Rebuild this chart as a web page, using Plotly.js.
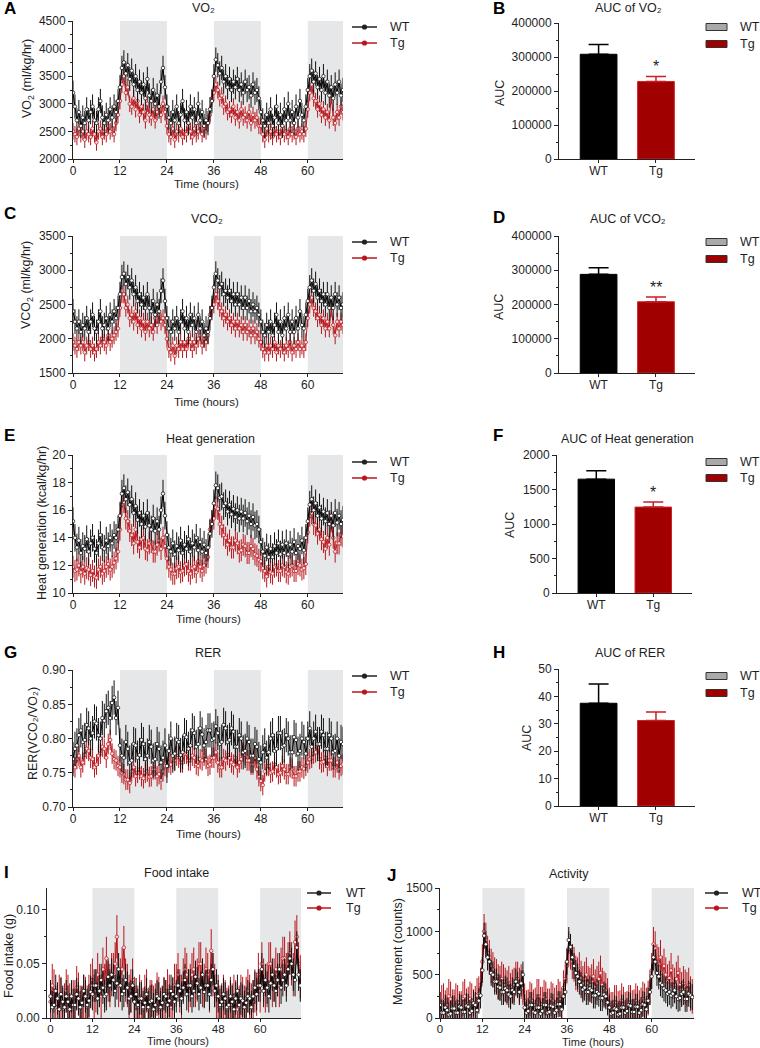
<!DOCTYPE html>
<html>
<head>
<meta charset="utf-8">
<script src="https://cdn.plot.ly/plotly-3.0.1.min.js"></script>
<style>html,body{margin:0;padding:0;background:#fff;}#chart{width:760px;height:1048px;}</style>
</head>
<body>
<div id="chart"></div>
<script>
// ---------------- DATA ----------------
const groups = ['WT', 'Tg'];
const timeTicks = [0, 12, 24, 36, 48, 60];
const hoursAG = [0,0.5,1,1.5,2,2.5,3,3.5,4,4.5,5,5.5,6,6.5,7,7.5,8,8.5,9,9.5,10,10.5,11,11.5,
 12,12.5,13,13.5,14,14.5,15,15.5,16,16.5,17,17.5,18,18.5,19,19.5,20,20.5,21,21.5,22,22.5,23,23.5,
 24,24.5,25,25.5,26,26.5,27,27.5,28,28.5,29,29.5,30,30.5,31,31.5,32,32.5,33,33.5,34,34.5,35,35.5,
 36,36.5,37,37.5,38,38.5,39,39.5,40,40.5,41,41.5,42,42.5,43,43.5,44,44.5,45,45.5,46,46.5,47,47.5,
 48,48.5,49,49.5,50,50.5,51,51.5,52,52.5,53,53.5,54,54.5,55,55.5,56,56.5,57,57.5,58,58.5,59,59.5,
 60,60.5,61,61.5,62,62.5,63,63.5,64,64.5,65,65.5,66,66.5,67,67.5,68,68.5,69];
const hoursIJ = [0,0.5,1,1.5,2,2.5,3,3.5,4,4.5,5,5.5,6,6.5,7,7.5,8,8.5,9,9.5,10,10.5,11,11.5,
 12,12.5,13,13.5,14,14.5,15,15.5,16,16.5,17,17.5,18,18.5,19,19.5,20,20.5,21,21.5,22,22.5,23,23.5,
 24,24.5,25,25.5,26,26.5,27,27.5,28,28.5,29,29.5,30,30.5,31,31.5,32,32.5,33,33.5,34,34.5,35,35.5,
 36,36.5,37,37.5,38,38.5,39,39.5,40,40.5,41,41.5,42,42.5,43,43.5,44,44.5,45,45.5,46,46.5,47,47.5,
 48,48.5,49,49.5,50,50.5,51,51.5,52,52.5,53,53.5,54,54.5,55,55.5,56,56.5,57,57.5,58,58.5,59,59.5,
 60,60.5,61,61.5,62,62.5,63,63.5,64,64.5,65,65.5,66,66.5,67,67.5,68,68.5,69,69.5,70,70.5,71,71.5];

const vo2WT = [3200,2950,2700,2850,2600,2750,2650,2900,2700,2850,2950,2700,2650,2900,3050,2750,2650,2800,2700,2900,2750,2950,2850,3050,
 3300,3650,3750,3550,3700,3450,3600,3350,3500,3250,3400,3200,3350,3100,3450,3150,3050,3250,3000,3150,2950,3400,3650,3300,
 2950,2750,2650,2850,2700,2950,2650,2800,3050,2700,2850,2650,2950,2750,2900,2650,3000,2700,2850,2600,2700,2650,2900,3050,
 3500,3800,3700,3550,3650,3400,3500,3300,3450,3250,3400,3300,3450,3250,3350,3200,3400,3250,3300,3150,3350,3200,3250,3100,
 2850,2700,2600,2800,2650,2900,2600,2750,2950,2650,2800,2600,2900,2700,3000,2700,2850,2650,2950,2750,3050,2800,2700,2950,
 3250,3500,3600,3400,3550,3300,3450,3250,3500,3200,3400,3150,3300,3100,3350,3200,3400,3150,3250];
const vo2Tg = [2500,2450,2400,2550,2450,2500,2350,2500,2450,2400,2550,2450,2300,2500,2550,2400,2500,2450,2600,2500,2550,2450,2650,2800,
 3050,3350,3500,3200,3300,3000,2950,3100,2900,3050,2800,2950,2850,2700,3000,2800,2750,2900,2700,2850,2950,2800,3000,2850,
 2600,2450,2400,2550,2350,2500,2450,2550,2400,2500,2450,2600,2500,2400,2550,2450,2500,2600,2450,2550,2500,2650,2800,3100,
 3200,3350,3250,3100,3150,2950,3000,2850,2900,2800,2950,2750,2850,2700,2900,2750,2800,2700,2850,2650,2800,2700,2750,2600,
 2600,2450,2350,2550,2450,2500,2400,2550,2450,2500,2400,2550,2450,2500,2400,2550,2450,2500,2400,2550,2450,2500,2450,2550,
 2900,3200,3350,3100,3050,2900,3000,2800,2900,2750,2850,2700,3150,2750,2650,2850,2750,2950,2850];
const vo2Err = [220, 150];

const vco2WT = [2400,2250,2150,2250,2100,2200,2150,2300,2100,2250,2350,2150,2100,2250,2400,2150,2200,2300,2150,2350,2250,2400,2300,2450,
 2650,2900,2950,2800,2900,2750,2850,2650,2750,2550,2650,2500,2600,2450,2650,2450,2400,2550,2350,2500,2400,2700,2850,2550,
 2300,2150,2100,2250,2150,2300,2100,2250,2400,2150,2300,2100,2350,2200,2300,2100,2350,2150,2250,2050,2150,2100,2300,2450,
 2750,2950,2850,2750,2800,2650,2700,2600,2700,2550,2650,2500,2650,2500,2600,2450,2600,2450,2550,2400,2500,2400,2450,2350,
 2250,2100,2050,2200,2100,2250,2050,2200,2350,2100,2250,2050,2300,2150,2350,2100,2250,2100,2300,2150,2400,2200,2150,2350,
 2550,2750,2850,2700,2800,2600,2700,2550,2650,2500,2650,2450,2600,2450,2650,2500,2600,2450,2500];
const vco2Tg = [1950,1900,1850,1950,1900,1950,1800,1900,1950,1850,1900,1800,1850,1950,1900,2000,1950,1900,2050,1950,2000,2050,2100,2150,
 2450,2650,2650,2450,2500,2300,2350,2250,2400,2200,2300,2150,2250,2100,2250,2150,2200,2100,2300,2200,2350,2250,2300,2200,
 2000,1850,1800,1900,1750,1900,1850,1950,1850,1950,1850,2000,1950,1850,1950,1900,2000,2050,1900,2000,1950,2050,2350,2450,
 2500,2650,2550,2450,2400,2300,2350,2250,2300,2200,2250,2150,2250,2150,2200,2100,2200,2100,2150,2050,2150,2050,2100,2000,
 1950,1850,1800,1900,1800,1900,1850,1950,1800,1900,1850,1900,1800,1900,1850,1950,1800,1900,1850,1950,1850,1900,1850,1950,
 2300,2500,2600,2450,2400,2300,2350,2200,2300,2150,2250,2150,2450,2200,2050,2250,2150,2250,2200];
const vco2Err = [180, 130];

const heatWT = [15.2,14.0,13.3,13.8,12.9,13.4,13.2,13.9,13.0,13.6,14.0,13.2,12.9,13.6,14.2,13.3,13.2,13.8,13.4,14.0,13.6,14.2,14.0,14.6,
 15.6,17.2,17.6,16.8,17.3,16.4,16.8,15.8,16.3,15.3,15.8,15.0,15.6,14.8,15.8,14.9,14.6,15.4,14.5,15.2,14.6,16.0,17.2,15.6,
 14.2,13.3,13.0,13.6,12.8,13.4,13.1,13.8,12.9,13.5,13.2,13.9,13.0,13.6,13.3,14.0,13.1,13.7,13.0,13.5,12.9,13.3,14.3,15.0,
 16.5,17.8,17.6,16.9,17.0,16.3,16.5,15.9,16.4,15.7,16.1,15.5,16.0,15.4,15.9,15.4,15.8,15.2,15.6,15.0,15.5,14.9,15.0,14.6,
 13.7,13.0,12.7,13.3,12.6,13.2,12.6,13.4,12.9,13.6,12.8,13.5,12.9,13.6,12.8,13.5,13.0,13.7,12.9,13.4,13.2,13.8,13.1,14.0,
 15.2,16.4,16.8,16.0,16.5,15.6,16.2,15.4,15.9,15.2,15.8,15.0,15.6,14.9,15.8,15.1,15.6,15.0,15.3];
const heatTg = [11.9,11.6,11.7,12.0,11.5,11.9,11.4,11.8,11.7,11.3,11.6,11.2,11.1,11.7,11.9,11.4,11.6,11.9,12.1,11.7,11.9,12.2,12.5,13.0,
 14.6,16.4,16.6,15.4,15.2,14.5,14.2,13.6,14.6,13.7,13.3,13.9,14.0,13.2,13.1,13.6,13.7,13.0,13.0,13.5,13.8,13.2,14.0,13.4,
 12.5,11.9,11.7,11.4,11.4,11.8,11.9,11.5,11.6,12.0,12.1,11.6,11.4,11.8,11.9,11.5,12.3,11.9,11.6,12.0,12.2,12.6,14.6,15.2,
 15.4,16.2,16.1,15.0,14.8,14.2,14.0,13.5,13.8,13.3,13.3,13.8,13.6,13.0,13.1,13.5,13.4,12.9,12.9,13.4,13.2,12.8,12.7,12.4,
 12.3,11.8,11.6,11.2,11.9,11.5,11.4,11.9,12.0,11.6,11.6,12.0,11.9,11.5,11.4,11.9,12.0,11.6,11.6,12.1,12.0,11.7,11.8,12.1,
 14.4,15.6,15.8,15.0,14.9,14.3,14.6,13.9,13.7,13.2,14.0,13.5,15.2,14.0,13.0,13.6,13.6,14.2,14.1];
const heatErr = [1.0, 0.8];

const rerWT = [0.770,0.785,0.790,0.805,0.812,0.795,0.798,0.820,0.815,0.800,0.808,0.825,0.822,0.805,0.800,0.830,0.826,0.840,0.845,0.830,0.852,0.860,0.830,0.845,
 0.790,0.775,0.772,0.795,0.785,0.765,0.768,0.792,0.790,0.772,0.776,0.798,0.792,0.770,0.775,0.795,0.788,0.768,0.770,0.792,0.785,0.765,0.772,0.790,
 0.760,0.782,0.800,0.775,0.778,0.798,0.795,0.776,0.780,0.805,0.802,0.785,0.790,0.812,0.808,0.788,0.792,0.815,0.806,0.790,0.795,0.812,0.812,0.798,
 0.800,0.818,0.808,0.792,0.795,0.820,0.815,0.795,0.798,0.815,0.810,0.788,0.788,0.805,0.800,0.780,0.782,0.800,0.795,0.775,0.775,0.792,0.788,0.770,
 0.765,0.780,0.790,0.772,0.780,0.800,0.805,0.782,0.785,0.808,0.808,0.788,0.790,0.805,0.800,0.780,0.780,0.802,0.798,0.778,0.782,0.800,0.795,0.778,
 0.800,0.815,0.788,0.800,0.810,0.792,0.792,0.810,0.805,0.785,0.785,0.805,0.800,0.780,0.782,0.800,0.775,0.795,0.792];
const rerTg = [0.765,0.758,0.770,0.775,0.758,0.765,0.776,0.785,0.782,0.772,0.770,0.758,0.762,0.775,0.778,0.788,0.785,0.772,0.792,0.798,0.778,0.770,0.768,0.760,
 0.758,0.750,0.748,0.740,0.740,0.735,0.752,0.758,0.745,0.750,0.755,0.745,0.742,0.750,0.752,0.744,0.745,0.755,0.755,0.745,0.748,0.740,0.752,0.760,
 0.758,0.765,0.762,0.770,0.768,0.775,0.772,0.765,0.765,0.778,0.778,0.768,0.768,0.775,0.772,0.762,0.760,0.770,0.768,0.775,0.770,0.760,0.762,0.772,
 0.772,0.780,0.765,0.758,0.758,0.770,0.768,0.776,0.772,0.765,0.762,0.772,0.758,0.765,0.770,0.780,0.776,0.768,0.768,0.762,0.762,0.772,0.755,0.745,
 0.738,0.732,0.752,0.760,0.760,0.750,0.752,0.762,0.758,0.748,0.750,0.760,0.755,0.748,0.748,0.758,0.756,0.745,0.745,0.752,0.752,0.758,0.756,0.760,
 0.765,0.770,0.772,0.778,0.780,0.790,0.770,0.765,0.766,0.772,0.760,0.768,0.768,0.758,0.758,0.765,0.755,0.760,0.762];
const rerErr = [0.025, 0.015];

const foodWT = [0.020,0.010,0.012,0.025,0.018,0.008,0.022,0.015,0.010,0.020,0.015,0.008,0.020,0.012,0.012,0.022,0.018,0.010,0.014,0.025,0.020,0.012,0.016,0.024,
 0.022,0.030,0.030,0.018,0.025,0.035,0.028,0.020,0.022,0.038,0.030,0.040,0.035,0.025,0.032,0.045,0.030,0.022,0.025,0.035,0.028,0.018,0.020,0.030,
 0.015,0.022,0.012,0.018,0.018,0.010,0.014,0.022,0.010,0.015,0.016,0.008,0.012,0.020,0.018,0.010,0.014,0.022,0.020,0.012,0.016,0.025,0.022,0.015,
 0.020,0.030,0.025,0.018,0.028,0.035,0.022,0.030,0.030,0.020,0.025,0.038,0.032,0.022,0.028,0.040,0.024,0.030,0.030,0.022,0.035,0.045,0.025,0.030,
 0.020,0.012,0.015,0.022,0.018,0.010,0.012,0.020,0.015,0.008,0.018,0.025,0.012,0.018,0.016,0.010,0.014,0.020,0.018,0.010,0.020,0.028,0.022,0.030,
 0.030,0.045,0.025,0.035,0.028,0.020,0.032,0.040,0.030,0.025,0.035,0.045,0.028,0.035,0.040,0.030,0.045,0.055,0.050,0.040,0.035,0.065,0.040,0.030];
const foodTg = [0.015,0.030,0.025,0.010,0.010,0.020,0.018,0.008,0.012,0.025,0.020,0.012,0.008,0.015,0.015,0.028,0.022,0.010,0.010,0.020,0.018,0.010,0.020,0.030,
 0.035,0.020,0.025,0.040,0.030,0.020,0.045,0.030,0.055,0.035,0.030,0.040,0.040,0.050,0.075,0.030,0.035,0.045,0.065,0.035,0.030,0.020,0.025,0.035,
 0.018,0.010,0.010,0.020,0.015,0.008,0.020,0.025,0.008,0.015,0.015,0.010,0.012,0.022,0.018,0.008,0.010,0.018,0.015,0.025,0.020,0.010,0.018,0.030,
 0.030,0.040,0.025,0.020,0.035,0.045,0.040,0.025,0.030,0.040,0.045,0.030,0.035,0.050,0.050,0.030,0.030,0.045,0.040,0.025,0.062,0.040,0.030,0.020,
 0.020,0.010,0.012,0.020,0.015,0.008,0.010,0.018,0.012,0.020,0.015,0.008,0.010,0.020,0.018,0.010,0.018,0.025,0.020,0.012,0.015,0.025,0.022,0.040,
 0.025,0.050,0.035,0.025,0.030,0.050,0.050,0.030,0.035,0.045,0.040,0.030,0.045,0.055,0.055,0.040,0.050,0.060,0.050,0.040,0.070,0.075,0.050,0.038];
const foodErr = [0.015, 0.02];

const actWT = [150,60,60,120,90,40,50,110,110,60,60,130,120,70,70,140,130,60,80,170,150,90,200,260,
 550,950,850,700,650,520,500,420,420,360,350,300,300,340,320,270,250,320,300,420,380,300,400,500,
 120,60,80,150,150,70,60,120,120,50,80,150,150,60,70,140,130,60,90,160,160,100,250,300,
 650,900,820,700,600,520,480,420,380,330,350,300,300,340,320,260,260,300,280,230,230,270,250,180,
 120,50,60,110,100,40,50,120,120,60,80,150,140,70,70,130,130,60,90,160,150,100,200,300,
 480,700,650,520,480,400,380,340,320,280,300,260,280,320,250,220,230,280,300,220,220,280,260,240];
const actTg = [100,180,200,120,150,250,220,130,130,200,180,110,110,220,250,140,160,220,200,130,170,260,280,380,
 650,1000,900,750,700,600,560,500,480,420,400,450,420,380,350,400,320,360,380,450,450,380,420,350,
 200,120,130,220,200,130,150,250,250,160,160,240,220,140,140,220,200,150,180,250,220,150,350,450,
 600,800,760,650,620,520,500,560,460,400,450,500,400,380,420,480,360,400,450,520,380,340,320,260,
 150,100,100,180,180,110,120,200,160,100,110,180,180,120,130,200,170,120,150,220,200,150,230,350,
 550,850,800,650,620,700,520,600,500,420,460,550,420,380,450,520,380,330,400,360,330,380,280,250];
const actErr = [150, 200];

const aucVO2 = [308000, 228000];
const aucVO2Sem = [29000, 15000];
const aucVCO2 = [288000, 208000];
const aucVCO2Sem = [19000, 14000];
const aucHeat = [1650, 1245];
const aucHeatSem = [120, 75];
const aucRER = [37.5, 31.2];
const aucRERSem = [7.0, 3.1];

// ---------------- STYLE / LAYOUT ----------------
const W = 760, H = 1048;
const FONT = 'Liberation Sans, Arial, Helvetica, sans-serif';
const TXT = '#1e1e1e';
const RED = '#b8161c';
const BAR_RED = '#a00000';
const SHADE = '#e6e7e8';

const layout = {
  width: W, height: H, margin: {l: 0, r: 0, t: 0, b: 0},
  paper_bgcolor: '#ffffff', plot_bgcolor: 'rgba(0,0,0,0)',
  showlegend: false, barmode: 'overlay',
  font: {family: FONT, size: 12, color: TXT},
  shapes: [], annotations: []
};
const traces = [];

function sfx(i) { return i === 1 ? '' : String(i); }
function axBase() {
  return {showline: true, linecolor: '#222', linewidth: 1, ticks: 'outside', ticklen: 4, tickwidth: 1,
    tickcolor: '#222', showgrid: false, zeroline: false, fixedrange: true,
    tickfont: {family: FONT, size: 12, color: TXT}};
}
function addAxes(i, box, xopt, yopt) {
  const s = sfx(i);
  layout['xaxis' + s] = Object.assign(axBase(), {domain: [box[0] / W, box[1] / W], anchor: 'y' + s, ticklen: 3, ticklabelstandoff: -2}, xopt);
  layout['yaxis' + s] = Object.assign(axBase(), {domain: [1 - box[3] / H, 1 - box[2] / H], anchor: 'x' + s}, yopt);
}
function ann(text, x, y, o) {
  layout.annotations.push(Object.assign({text: text, x: x / W, y: 1 - y / H, xref: 'paper', yref: 'paper',
    showarrow: false, xanchor: 'center', yanchor: 'middle', font: {family: FONT, size: 12, color: TXT}}, o || {}));
}
function tsLegend(lineX0, lineX1, textX, y1, y2) {
  [[y1, '#222', 'WT'], [y2, RED, 'Tg']].forEach(function (r) {
    const yy = 1 - r[0] / H, cx = (lineX0 + lineX1) / 2;
    layout.shapes.push({type: 'line', xref: 'paper', yref: 'paper', x0: lineX0 / W, x1: lineX1 / W, y0: yy, y1: yy, line: {color: r[1], width: 1.5}});
    layout.shapes.push({type: 'circle', xref: 'paper', yref: 'paper', x0: (cx - 2.6) / W, x1: (cx + 2.6) / W,
      y0: 1 - (r[0] + 2.6) / H, y1: 1 - (r[0] - 2.6) / H, fillcolor: r[1], line: {color: r[1], width: 0}});
    ann(r[2], textX, r[0], {xanchor: 'left', font: {family: FONT, size: 12.5, color: TXT}});
  });
}
function barLegend(y1, y2) {
  [[y1, '#a9a9a9', 'WT'], [y2, BAR_RED, 'Tg']].forEach(function (r) {
    layout.shapes.push({type: 'rect', xref: 'paper', yref: 'paper', x0: 706 / W, x1: 727 / W,
      y0: 1 - (r[0] + 3.5) / H, y1: 1 - (r[0] - 3.5) / H, fillcolor: r[1], line: {color: '#333', width: 1}});
    ann(r[2], 738, r[0], {xanchor: 'left', font: {family: FONT, size: 12.5, color: TXT}});
  });
}
function tsPanel(i, box, xr, yr, ydt, ymin, yfmt, hours, wt, tg, err, shadeEnd, xextra) {
  addAxes(i, box, Object.assign({range: xr, tickmode: 'array', tickvals: timeTicks}, xextra || {}),
    {range: yr, dtick: ydt, tick0: 0, tickformat: yfmt,
     minor: {ticks: 'outside', ticklen: 2, dtick: ymin, tick0: 0, tickcolor: '#222'}});
  const s = sfx(i);
  [[12, 24], [36, 48], [60, shadeEnd]].forEach(function (p) {
    layout.shapes.push({type: 'rect', xref: 'x' + s, yref: 'y' + s + ' domain', x0: p[0], x1: p[1], y0: 0, y1: 1,
      fillcolor: SHADE, line: {width: 0}, layer: 'below'});
  });
  traces.push({type: 'scatter', mode: 'lines+markers', name: 'Tg', x: hours, y: tg, xaxis: 'x' + s, yaxis: 'y' + s,
    line: {color: RED, width: 1}, marker: {size: 3.5, color: '#f6dede', line: {color: RED, width: 0.7}},
    error_y: {type: 'constant', value: err[1], color: RED, thickness: 1, width: 0}});
  traces.push({type: 'scatter', mode: 'lines+markers', name: 'WT', x: hours, y: wt, xaxis: 'x' + s, yaxis: 'y' + s,
    line: {color: '#000', width: 1}, marker: {size: 3.5, color: '#ffffff', line: {color: '#000', width: 0.7}},
    error_y: {type: 'constant', value: err[0], color: '#111', thickness: 1, width: 0}});
}
function barPanel(i, box, yr, ydt, ymin, vals, sem, star) {
  addAxes(i, box, {type: 'category', categoryorder: 'array', categoryarray: groups, range: [-0.69, 1.68]},
    {range: yr, dtick: ydt, tick0: 0, tickformat: 'd',
     minor: {ticks: 'outside', ticklen: 2, dtick: ymin, tick0: 0, tickcolor: '#222'}});
  const s = sfx(i);
  const fill = ['#000000', BAR_RED], edge = ['#000000', '#d0202a'], ecol = ['#000000', '#c81e26'];
  for (let k = 0; k < 2; k++) {
    traces.push({type: 'bar', name: groups[k], x: [groups[k]], y: [vals[k]], width: 0.64, xaxis: 'x' + s, yaxis: 'y' + s,
      marker: {color: fill[k], line: {color: edge[k], width: 1}},
      error_y: {type: 'data', symmetric: false, array: [sem[k]], arrayminus: [0], color: ecol[k], thickness: 1.5, width: 10}});
  }
  if (star) {
    layout.annotations.push({text: star, xref: 'x' + s, yref: 'y' + s, x: groups[1], y: vals[1] + sem[1],
      yanchor: 'bottom', xanchor: 'center', yshift: -1, showarrow: false, font: {family: FONT, size: 16, color: TXT}});
  }
}

// ---- panels ----
tsPanel(1, [73, 343, 21, 159], [0, 69], [2000, 4500], 500, 250, 'd', hoursAG, vo2WT, vo2Tg, vo2Err, 69);
barPanel(2, [559, 695, 23, 159], [0, 400000], 100000, 50000, aucVO2, aucVO2Sem, '*');
tsPanel(3, [73, 343, 236, 373], [0, 69], [1500, 3500], 500, 250, 'd', hoursAG, vco2WT, vco2Tg, vco2Err, 69);
barPanel(4, [559, 695, 236, 373], [0, 400000], 100000, 50000, aucVCO2, aucVCO2Sem, '**');
tsPanel(5, [73, 343, 455, 593], [0, 69], [10, 20], 2, 1, 'd', hoursAG, heatWT, heatTg, heatErr, 69);
barPanel(6, [557, 692, 455, 593], [0, 2000], 500, 250, aucHeat, aucHeatSem, '*');
tsPanel(7, [73, 343, 670, 807], [0, 69], [0.70, 0.9002], 0.05, 0.025, '.2f', hoursAG, rerWT, rerTg, rerErr, 69);
barPanel(8, [559, 695, 669, 806], [0, 50], 10, 5, aucRER, aucRERSem, null);
tsPanel(9, [47, 301, 888, 1018], [-1, 71.7], [0, 0.12], 0.05, 0.025, '.2f', hoursIJ, foodWT, foodTg, foodErr, 71.7,
  {ticklabelstandoff: -3, tickfont: {family: FONT, size: 11.5, color: TXT}});
tsPanel(10, [440, 694, 888, 1018], [0, 72], [0, 1500], 500, 250, 'd', hoursIJ, actWT, actTg, actErr, 72,
  {ticklabelstandoff: -3, tickfont: {family: FONT, size: 11.5, color: TXT}});

// ---- titles ----
const TS = {family: FONT, size: 12.5, color: TXT};
ann('VO₂', 203, 8, {font: TS});
ann('AUC of VO₂', 628, 8, {font: TS});
ann('VCO₂', 207, 219, {font: TS});
ann('AUC of VCO₂', 628, 219, {font: TS});
ann('Heat generation', 210, 439, {font: TS});
ann('AUC of Heat generation', 627, 439, {font: TS});
ann('RER', 208, 653, {font: TS});
ann('AUC of RER', 630, 653, {font: TS});
ann('Food intake', 176, 873, {font: TS});
ann('Activity', 569, 874, {font: TS});

// ---- panel letters ----
const LF = {family: FONT, size: 17, color: '#000'};
[['A', 2, 8], ['B', 491, 8], ['C', 2, 213], ['D', 491, 218], ['E', 2, 435], ['F', 491, 435],
 ['G', 2, 652], ['H', 491, 652], ['I', 2, 872], ['J', 385, 875]].forEach(function (p) {
  ann('<b>' + p[0] + '</b>', p[1], p[2], {xanchor: 'left', font: LF});
});

// ---- axis titles ----
const AT = {family: FONT, size: 12.5, color: TXT};
const XT = {family: FONT, size: 11.5, color: TXT};
const XT2 = {family: FONT, size: 11, color: TXT};
ann('VO<sub>2</sub> (ml/kg/hr)', 28, 78, {textangle: -90, font: AT});
ann('VCO<sub>2</sub> (ml/kg/hr)', 27, 285, {textangle: -90, font: AT});
ann('Heat generation (kcal/kg/hr)', 42, 523, {textangle: -90, font: AT});
ann('RER(VCO₂/VO₂)', 33, 734, {textangle: -90, font: AT});
ann('Food intake (g)', 9, 956, {textangle: -90, font: AT});
ann('Movement (counts)', 398, 952, {textangle: -90, font: AT});
ann('AUC', 500, 93, {textangle: -90, font: AT});
ann('AUC', 499, 307, {textangle: -90, font: AT});
ann('AUC', 510, 525, {textangle: -90, font: AT});
ann('AUC', 527, 738, {textangle: -90, font: AT});
ann('Time (hours)', 206, 184, {font: XT});
ann('Time (hours)', 206, 402, {font: XT});
ann('Time (hours)', 208, 619, {font: XT});
ann('Time (hours)', 208, 834, {font: XT});
ann('Time (hours)', 178, 1041, {font: XT2});
ann('Time (hours)', 593, 1042, {font: XT2});

// ---- legends ----
tsLegend(352, 377, 388, 27, 43);
barLegend(27, 44);
tsLegend(352, 377, 388, 242, 258);
barLegend(242, 259);
tsLegend(352, 377, 388, 462, 478);
barLegend(462, 478);
tsLegend(352, 377, 388, 676, 692);
barLegend(676, 693);
tsLegend(307, 331, 344, 893, 908);
tsLegend(705, 728, 740, 893, 908);

Plotly.newPlot('chart', traces, layout, {displayModeBar: false, staticPlot: true});
</script>
</body>
</html>
